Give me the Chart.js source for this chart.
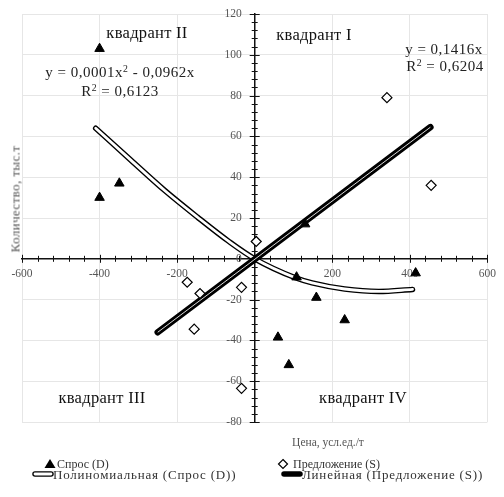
<!DOCTYPE html>
<html>
<head>
<meta charset="utf-8">
<script src="https://cdn.jsdelivr.net/npm/chart.js@4.4.1/dist/chart.umd.min.js"></script>
<style>
  body { margin: 0; background: #fff; }
  #wrap { position: relative; width: 504px; height: 497px; font-family: "Liberation Serif", "DejaVu Serif", serif; color: #111; }
  canvas { position: absolute; left: 0; top: 0; }
  .t { position: absolute; white-space: nowrap; transform: translate(-50%, -50%); line-height: 1; }
  .q { font-size: 16.5px; letter-spacing: 0.3px; }
  .eq { font-size: 15px; letter-spacing: 0.5px; color: #222; }
  .ax { font-size: 11.5px; color: #555; }
  .lg { position: absolute; white-space: nowrap; color: #333; line-height: 1; transform: translateY(-50%); }
  .r1 { font-size: 12px; }
  .r2 { font-size: 13px; letter-spacing: 0.8px; }
  sup { font-size: 0.65em; vertical-align: 0.5em; line-height: 0; }
</style>
</head>
<body>
<div id="wrap">
  <canvas id="chart" width="504" height="497"></canvas>

  <div class="t q" style="left:147px; top:33px">квадрант II</div>
  <div class="t q" style="left:314px; top:35px">квадрант I</div>
  <div class="t q" style="left:102px; top:398px">квадрант III</div>
  <div class="t q" style="left:363px; top:398px">квадрант IV</div>

  <div class="t eq" style="left:120px; top:72px">y = 0,0001x<sup>2</sup> - 0,0962x</div>
  <div class="t eq" style="left:120px; top:91px">R<sup>2</sup> = 0,6123</div>
  <div class="t eq" style="left:444px; top:49px">y = 0,1416x</div>
  <div class="t eq" style="left:445px; top:66px">R<sup>2</sup> = 0,6204</div>

  <div class="t ax" style="left:328px; top:443px">Цена, усл.ед./т</div>
  <div class="t ax" style="left:15px; top:199px; font-size:13px; letter-spacing:0.4px; transform: translate(-50%, -50%) rotate(-90deg)">Количество, тыс.т</div>

  <!-- легенда -->
  <svg style="position:absolute; left:44px; top:458px" width="12" height="11"><polygon points="6,1 11.5,10 0.5,10" fill="#000"/></svg>
  <div class="lg r1" style="left:57px; top:464px">Спрос (D)</div>
  <svg style="position:absolute; left:277px; top:458px" width="12" height="12"><polygon points="6,1.5 10.5,6 6,10.5 1.5,6" fill="#fff" stroke="#000" stroke-width="1.2"/></svg>
  <div class="lg r1" style="left:293px; top:464px">Предложение (S)</div>
  <svg style="position:absolute; left:32px; top:470px" width="22" height="8"><line x1="3" y1="4" x2="19" y2="4" stroke="#000" stroke-width="5.5" stroke-linecap="round"/><line x1="3" y1="4" x2="19" y2="4" stroke="#fff" stroke-width="2.8" stroke-linecap="round"/></svg>
  <div class="lg r2" style="left:53px; top:474px">Полиномиальная (Спрос (D))</div>
  <svg style="position:absolute; left:281px; top:470px" width="22" height="8"><line x1="3" y1="4" x2="19" y2="4" stroke="#000" stroke-width="5.5" stroke-linecap="round"/></svg>
  <div class="lg r2" style="left:302px; top:474px">Линейная (Предложение (S))</div>
</div>

<script>
  // Спрос (D): цена и количество
  const demandX = [-400, -400, -349, 130, 108, 415, 159, 232, 60, 88];
  const demandY = [103, 30, 37, 17, -9, -7, -19, -30, -38.5, -52];

  // Предложение (S)
  const supplyX = [341, 455, 4, -174, -141, -34, -156, -34];
  const supplyY = [79, 36, 8.5, -11.5, -17, -14, -34.5, -63.5];

  // Полиномиальная линия тренда
  const polyX = [-410, -320, -232, -148, -65, 0, 105, 148, 232, 320, 407];
  const polyY = [64, 48.5, 33.5, 20.5, 8.3, 0, -9.3, -11.8, -14.8, -16, -15];

  // Линейная линия тренда
  const linX = [-250, 453];
  const linY = [-36, 64.5];

  // Оси
  const xMin = -600, xMax = 600, xStep = 200, xMinor = 40;
  const yMin = -80, yMax = 120, yStep = 20, yMinor = 4;

  const toPoints = (xs, ys) => xs.map((x, i) => ({ x, y: ys[i] }));

  const tickFont = { family: 'Liberation Serif', size: 11.5 };

  // Засечки на осях и подписи оси Y слева от неё
  const axisTicks = {
    id: 'axisTicks',
    beforeDatasetsDraw(chart) {
      const { ctx, scales: { x, y } } = chart;
      const x0 = x.getPixelForValue(0);
      const y0 = y.getPixelForValue(0);
      ctx.save();
      ctx.strokeStyle = '#111';
      ctx.lineWidth = 1;
      ctx.beginPath();
      for (let v = xMin; v <= xMax; v += xMinor) {
        const px = Math.round(x.getPixelForValue(v)) + 0.5;
        const len = v % xStep === 0 ? 4 : 3;
        ctx.moveTo(px, y0 - len);
        ctx.lineTo(px, y0 + len);
      }
      for (let v = yMin; v <= yMax; v += yMinor) {
        const py = Math.round(y.getPixelForValue(v)) + 0.5;
        const len = v % yStep === 0 ? 5 : 3;
        ctx.moveTo(x0 - len, py);
        ctx.lineTo(x0 + len, py);
      }
      ctx.stroke();

      ctx.fillStyle = '#555';
      ctx.font = `${tickFont.size}px "${tickFont.family}"`;
      ctx.textAlign = 'right';
      ctx.textBaseline = 'middle';
      y.ticks.forEach(t => {
        ctx.fillText(String(t.value), x0 - 13, y.getPixelForValue(t.value));
      });
      ctx.restore();
    }
  };

  new Chart(document.getElementById('chart'), {
    type: 'scatter',
    data: {
      datasets: [
        {
          label: 'Спрос (D)',
          data: toPoints(demandX, demandY),
          pointStyle: 'triangle',
          pointRadius: 5.5,
          backgroundColor: '#000',
          borderColor: '#000',
          borderWidth: 1,
          order: 1
        },
        {
          label: 'Предложение (S)',
          data: toPoints(supplyX, supplyY),
          pointStyle: 'rectRot',
          pointRadius: 5,
          backgroundColor: '#fff',
          borderColor: '#000',
          borderWidth: 1.2,
          order: 0
        },
        {
          label: 'Полиномиальная (Спрос (D))',
          data: toPoints(polyX, polyY),
          showLine: true,
          borderColor: '#000',
          borderWidth: 5.5,
          borderCapStyle: 'round',
          cubicInterpolationMode: 'monotone',
          pointRadius: 0,
          order: 5
        },
        {
          label: 'poly-inner',
          data: toPoints(polyX, polyY),
          showLine: true,
          borderColor: '#fff',
          borderWidth: 2.8,
          borderCapStyle: 'round',
          cubicInterpolationMode: 'monotone',
          pointRadius: 0,
          order: 4
        },
        {
          label: 'Линейная (Предложение (S))',
          data: toPoints(linX, linY),
          showLine: true,
          borderColor: '#000',
          borderWidth: 6.5,
          borderCapStyle: 'round',
          pointRadius: 0,
          order: 3
        },
        {
          label: 'lin-inner',
          data: toPoints(linX, linY),
          showLine: true,
          borderColor: 'rgba(255,255,255,0.85)',
          borderWidth: 1,
          pointRadius: 0,
          order: 2
        }
      ]
    },
    options: {
      responsive: false,
      animation: false,
      layout: { padding: { left: 22, right: 9, top: 14, bottom: 75 } },
      plugins: { legend: { display: false }, tooltip: { enabled: false } },
      scales: {
        x: {
          type: 'linear',
          min: xMin,
          max: xMax,
          position: { y: 0 },
          afterFit: (scale) => { scale.height = 0; },
          ticks: {
            stepSize: xStep, font: tickFont, color: '#555', padding: 8, maxRotation: 0,
            callback: (v) => (v === 0 ? '' : v)
          },
          grid: { color: '#e6e6e6', drawTicks: false },
          border: { color: '#111', width: 1.5 }
        },
        y: {
          type: 'linear',
          min: yMin,
          max: yMax,
          position: { x: 0 },
          afterFit: (scale) => { scale.width = 0; },
          ticks: { stepSize: yStep, display: false },
          grid: { color: '#e6e6e6', drawTicks: false },
          border: { color: '#111', width: 1.5 }
        }
      }
    },
    plugins: [axisTicks]
  });
</script>
</body>
</html>
